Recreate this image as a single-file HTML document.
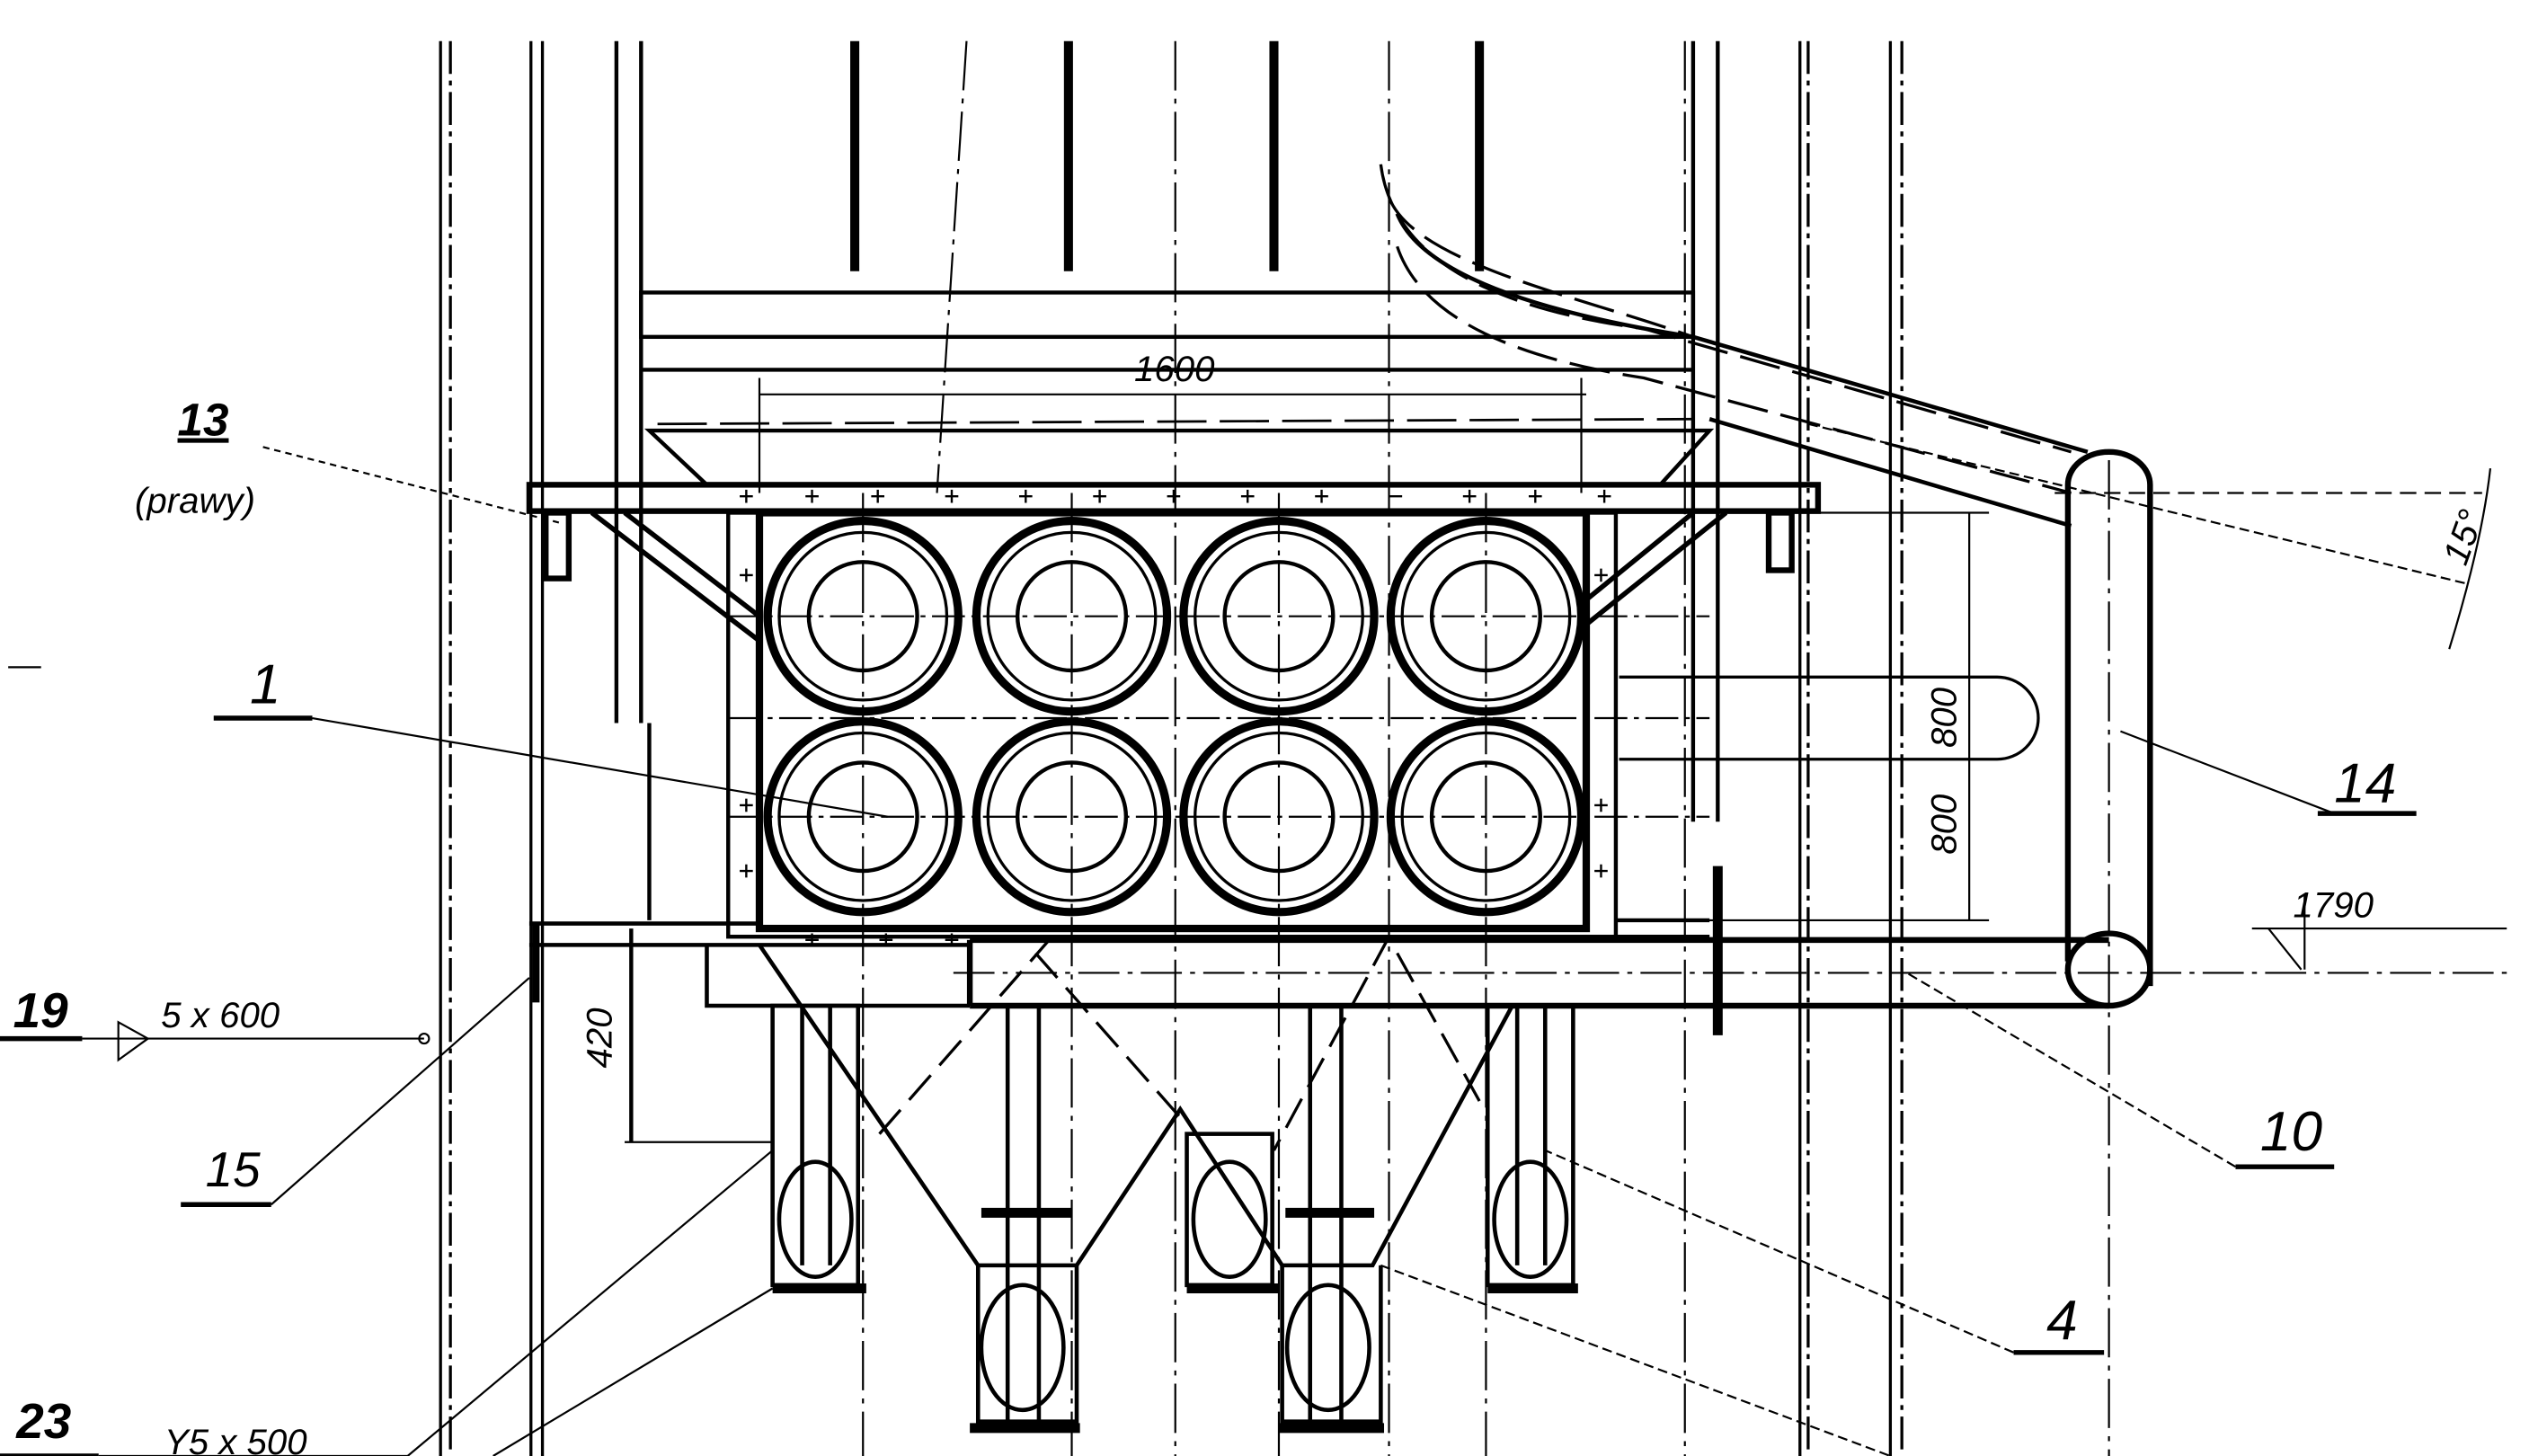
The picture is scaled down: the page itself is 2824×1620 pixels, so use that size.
<!DOCTYPE html>
<html><head><meta charset="utf-8"><style>
html,body{margin:0;padding:0;background:#fff}
svg{display:block}
text{font-family:"Liberation Sans",sans-serif;font-style:italic;fill:#000}
</style></head><body>
<svg width="2824" height="1620" viewBox="0 0 1544 886" preserveAspectRatio="none" xmlns="http://www.w3.org/2000/svg">
<g stroke="#000" fill="none" stroke-width="2.4">
<g stroke-width="1.8">
<line x1="268" y1="25" x2="268" y2="886"/><line x1="274" y1="25" x2="274" y2="886" stroke-dasharray="20 4 3 4"/>
<line x1="323" y1="25" x2="323" y2="886"/><line x1="330" y1="25" x2="330" y2="886"/>
<line x1="1150" y1="25" x2="1150" y2="886"/><line x1="1157" y1="25" x2="1157" y2="886" stroke-dasharray="20 4 3 4"/>
<line x1="1095" y1="25" x2="1095" y2="886"/><line x1="1100" y1="25" x2="1100" y2="886" stroke-dasharray="20 4 3 4"/>
</g>
<g stroke-width="1.2" stroke-dasharray="30 5 3 5">
<line x1="588" y1="25" x2="570" y2="300"/><line x1="715" y1="25" x2="715" y2="886"/>
<line x1="845" y1="25" x2="845" y2="886"/><line x1="1025" y1="25" x2="1025" y2="886"/>
<line x1="525" y1="300" x2="525" y2="886"/><line x1="652" y1="300" x2="652" y2="886"/>
<line x1="778" y1="300" x2="778" y2="886"/><line x1="904" y1="300" x2="904" y2="886"/>
<line x1="1283" y1="280" x2="1283" y2="886"/>
</g>
<line x1="375" y1="25" x2="375" y2="440"/><line x1="390" y1="25" x2="390" y2="440"/>
<line x1="1030" y1="25" x2="1030" y2="500"/><line x1="1045" y1="25" x2="1045" y2="500"/>
<line x1="395" y1="440" x2="395" y2="560"/>
<g stroke-width="5.5"><line x1="520" y1="25" x2="520" y2="165"/><line x1="650" y1="25" x2="650" y2="165"/><line x1="775" y1="25" x2="775" y2="165"/><line x1="900" y1="25" x2="900" y2="165"/></g>
<rect x="390" y="178" width="640" height="27"/>
<line x1="390" y1="225" x2="1030" y2="225"/>
<path d="M395 262 L1040 262 L1010 295 L430 295 Z"/>
<line x1="400" y1="258" x2="1030" y2="255" stroke-dasharray="30 8" stroke-width="1.5"/>
<g stroke-dasharray="25 8" stroke-width="1.8">
<path d="M840 100 Q850 180 1000 200 L1260 275"/>
<path d="M850 150 Q870 210 1000 230 L1260 300"/>
<path d="M845 120 C860 160 960 180 1030 205"/>
</g>
<path d="M850 130 Q870 180 1030 205 L1270 275" stroke-width="2.5"/>
<path d="M1040 255 L1260 320" stroke-width="2.5"/>
<rect x="322" y="295" width="784" height="16" stroke-width="3.5"/>
<rect x="332" y="312" width="14" height="40" stroke-width="3.5"/>
<rect x="1076" y="312" width="14" height="35" stroke-width="3.5"/>
<path d="M360 312 L462 390 M380 312 L462 375" stroke-width="3"/>
<path d="M1050 312 L965 380 M1030 312 L965 365" stroke-width="3"/>
<rect x="443" y="312" width="540" height="258"/>
<rect x="462" y="312" width="503" height="253" stroke-width="4.5"/>
<line x1="983" y1="560" x2="1040" y2="560"/>
<line x1="983" y1="570" x2="1040" y2="570"/>
<g stroke-width="5"><circle cx="525" cy="375" r="58"/><circle cx="652" cy="375" r="58"/><circle cx="778" cy="375" r="58"/><circle cx="904" cy="375" r="58"/>
<circle cx="525" cy="497" r="58"/><circle cx="652" cy="497" r="58"/><circle cx="778" cy="497" r="58"/><circle cx="904" cy="497" r="58"/></g>
<g stroke-width="1.8"><circle cx="525" cy="375" r="51"/><circle cx="652" cy="375" r="51"/><circle cx="778" cy="375" r="51"/><circle cx="904" cy="375" r="51"/>
<circle cx="525" cy="497" r="51"/><circle cx="652" cy="497" r="51"/><circle cx="778" cy="497" r="51"/><circle cx="904" cy="497" r="51"/></g>
<g stroke-width="2.4"><circle cx="525" cy="375" r="33"/><circle cx="652" cy="375" r="33"/><circle cx="778" cy="375" r="33"/><circle cx="904" cy="375" r="33"/>
<circle cx="525" cy="497" r="33"/><circle cx="652" cy="497" r="33"/><circle cx="778" cy="497" r="33"/><circle cx="904" cy="497" r="33"/></g>
<g stroke-width="1.2" stroke-dasharray="20 4 3 4"><line x1="443" y1="375" x2="1040" y2="375"/><line x1="443" y1="497" x2="1040" y2="497"/><line x1="443" y1="437" x2="1040" y2="437"/></g>
<line x1="462" y1="240" x2="965" y2="240" stroke-width="1.2"/>
<line x1="462" y1="230" x2="462" y2="300" stroke-width="1.2"/><line x1="962" y1="230" x2="962" y2="300" stroke-width="1.2"/>
<line x1="985" y1="312" x2="1210" y2="312" stroke-width="1.2"/><line x1="985" y1="560" x2="1210" y2="560" stroke-width="1.2"/>
<line x1="1198" y1="312" x2="1198" y2="560" stroke-width="1.2"/>
<path d="M985 412 L1215 412 A25 25 0 0 1 1215 462 L985 462" stroke-width="1.8"/>
<path d="M1258 585 L1258 295 A25 20 0 0 1 1308 295 L1308 600" stroke-width="3.5"/>
<ellipse cx="1283" cy="590" rx="25" ry="22" stroke-width="3.5"/>
<path d="M590 572 L1283 572 M590 612 L1283 612 M590 572 L590 612" stroke-width="3.5"/>
<line x1="1045" y1="527" x2="1045" y2="630" stroke-width="6"/>
<line x1="580" y1="592" x2="1530" y2="592" stroke-width="1.2" stroke-dasharray="25 5 3 5"/>
<path d="M322 562 L462 562 M322 575 L430 575 M430 575 L430 612 L590 612 M430 575 L590 575" stroke-width="2.5"/>
<line x1="384" y1="565" x2="384" y2="695"/><line x1="380" y1="695" x2="470" y2="695" stroke-width="1.2"/>
<line x1="326" y1="562" x2="326" y2="610" stroke-width="4.5"/>
<path d="M462 575 L595 770 L655 770 L718 675 L780 770 L835 770 L920 612" stroke-width="2.5"/>
<path d="M595 770 L595 865 L655 865 L655 770 M780 770 L780 865 L840 865 L840 770" stroke-width="2.5"/>
<g stroke-dasharray="20 8" stroke-width="1.8"><path d="M640 570 L535 690 M630 580 L718 680 M845 570 L775 700 M850 580 L900 670"/></g>
<g stroke-width="2.5">
<rect x="470" y="612" width="52" height="170"/><line x1="488" y1="612" x2="488" y2="770"/><line x1="505" y1="612" x2="505" y2="770"/>
<ellipse cx="496" cy="742" rx="22" ry="35"/>
<rect x="905" y="612" width="52" height="170"/><line x1="923" y1="612" x2="923" y2="770"/><line x1="940" y1="612" x2="940" y2="770"/>
<ellipse cx="931" cy="742" rx="22" ry="35"/>
<rect x="722" y="690" width="52" height="92"/><ellipse cx="748" cy="742" rx="22" ry="35"/>
<line x1="613" y1="612" x2="613" y2="865"/><line x1="632" y1="612" x2="632" y2="865"/>
<ellipse cx="622" cy="820" rx="25" ry="38"/>
<line x1="797" y1="612" x2="797" y2="865"/><line x1="816" y1="612" x2="816" y2="865"/>
<ellipse cx="808" cy="820" rx="25" ry="38"/>
</g>
<g stroke-width="6"><line x1="470" y1="784" x2="527" y2="784"/><line x1="905" y1="784" x2="960" y2="784"/><line x1="722" y1="784" x2="778" y2="784"/>
<line x1="590" y1="869" x2="657" y2="869"/><line x1="778" y1="869" x2="842" y2="869"/>
<line x1="597" y1="738" x2="652" y2="738"/><line x1="782" y1="738" x2="836" y2="738"/></g>
<g stroke-width="1.2">
<line x1="160" y1="272" x2="340" y2="318" stroke-dasharray="4 3"/>
<line x1="130" y1="437" x2="190" y2="437" stroke-width="3"/><line x1="190" y1="437" x2="540" y2="497"/>
<line x1="1420" y1="495" x2="1290" y2="445"/><line x1="1410" y1="495" x2="1470" y2="495" stroke-width="3"/>
<line x1="1360" y1="710" x2="1160" y2="592" stroke-dasharray="6 3"/><line x1="1360" y1="710" x2="1420" y2="710" stroke-width="3"/>
<line x1="1225" y1="823" x2="940" y2="700" stroke-dasharray="6 3"/><line x1="1225" y1="823" x2="1280" y2="823" stroke-width="3"/>
<line x1="110" y1="733" x2="165" y2="733" stroke-width="3"/><line x1="165" y1="733" x2="322" y2="595"/>
<line x1="0" y1="632" x2="50" y2="632" stroke-width="3"/><line x1="50" y1="632" x2="258" y2="632"/>
<circle cx="258" cy="632" r="3"/>
<path d="M72 622 L90 632 L72 645 Z"/>
<line x1="0" y1="886" x2="60" y2="886" stroke-width="3"/><line x1="60" y1="886" x2="248" y2="886"/>
<line x1="248" y1="886" x2="470" y2="700"/><line x1="300" y1="886" x2="470" y2="784"/>
<line x1="840" y1="770" x2="1150" y2="886" stroke-dasharray="6 3"/>
<line x1="1250" y1="300" x2="1510" y2="300" stroke-dasharray="10 5"/>
<line x1="1100" y1="258" x2="1500" y2="355" stroke-dasharray="6 3"/>
<path d="M1515 285 Q1510 330 1490 395"/>
<line x1="1370" y1="565" x2="1525" y2="565"/><line x1="1380" y1="565" x2="1400" y2="590"/>
<line x1="1402" y1="545" x2="1402" y2="590"/>
<line x1="5" y1="406" x2="25" y2="406"/>
</g>
<g stroke-width="1.3">
<path d="M450 302h8M454 298v8 M490 302h8M494 298v8 M530 302h8M534 298v8 M575 302h8M579 298v8 M620 302h8M624 298v8 M665 302h8M669 298v8 M710 302h8M714 298v8 M755 302h8M759 298v8 M800 302h8M804 298v8 M845 302h8 M890 302h8M894 298v8 M930 302h8M934 298v8 M972 302h8M976 298v8"/>
<path d="M450 350h8M454 346v8 M450 490h8M454 486v8 M450 530h8M454 526v8 M970 350h8M974 346v8 M970 490h8M974 486v8 M970 530h8M974 526v8 M490 572h8M494 568v8 M535 572h8M539 568v8 M575 572h8M579 568v8"/>
</g>
</g>
<g font-size="22">
<text x="690" y="232">1600</text>
<text x="108" y="265" font-size="28" font-weight="bold" text-decoration="underline">13</text>
<text x="82" y="312" font-size="22">(prawy)</text>
<text x="152" y="428" font-size="34">1</text>
<text x="1420" y="488" font-size="34">14</text>
<text x="1375" y="700" font-size="34">10</text>
<text x="1245" y="815" font-size="34">4</text>
<text x="8" y="625" font-size="30" font-weight="bold">19</text>
<text x="98" y="625">5 x 600</text>
<text x="125" y="722" font-size="30">15</text>
<text x="10" y="875" font-size="30" font-weight="bold">23</text>
<text x="100" y="885">Y5 x 500</text>
<text x="1395" y="558">1790</text>
<text transform="translate(1190,520) rotate(-90)">800</text>
<text transform="translate(1190,455) rotate(-90)">800</text>
<text transform="translate(372,650) rotate(-90)">420</text>
<text transform="translate(1500,345) rotate(-70)">15°</text>
</g>
</svg>
</body></html>
